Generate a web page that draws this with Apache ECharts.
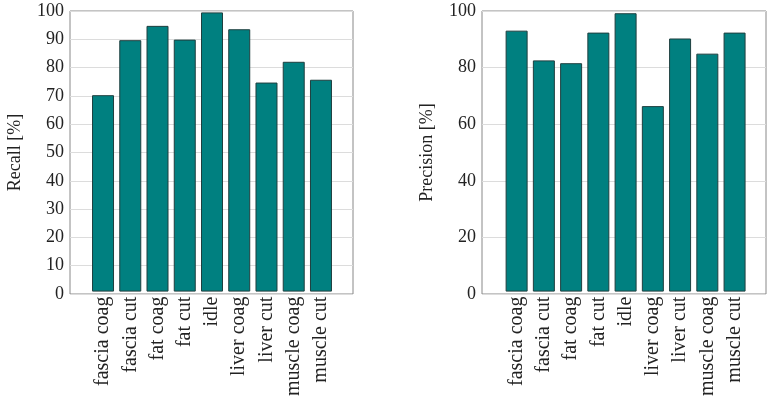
<!DOCTYPE html>
<html>
<head>
<meta charset="utf-8">
<script src="https://cdn.jsdelivr.net/npm/echarts@6/dist/echarts.min.js"></script>
<style>
html, body { margin: 0; padding: 0; background: #fff; }
#chart { width: 768px; height: 399px; }
</style>
</head>
<body>
<div id="chart"></div>
<script>
var chart = echarts.init(document.getElementById('chart'));

var classes = ['fascia coag', 'fascia cut', 'fat coag', 'fat cut', 'idle',
  'liver coag', 'liver cut', 'muscle coag', 'muscle cut'];
var recall = [70.0, 89.6, 94.7, 89.8, 99.5, 93.5, 74.5, 81.9, 75.5];
var precision = [93.0, 82.4, 81.4, 92.3, 99.2, 66.1, 90.2, 84.8, 92.3];

var font = 'Liberation Serif';
var txt = '#222';

// frame grid + bar grid for each panel
function frameAxes(idx, name, interval) {
  return {
    x: { gridIndex: idx, type: 'value', min: 0, max: 1, show: false },
    y: {
      gridIndex: idx, type: 'value', min: 0, max: 100, interval: interval,
      name: name, nameLocation: 'middle', nameGap: 46,
      nameTextStyle: { fontFamily: font, fontSize: 18, color: txt },
      axisLine: { show: false }, axisTick: { show: false },
      axisLabel: { fontFamily: font, fontSize: 18, color: txt, margin: 6 },
      splitLine: { lineStyle: { color: '#dcdcdc', width: 1 } }
    }
  };
}

var fL = frameAxes(0, 'Recall [%]', 10);
var fR = frameAxes(2, 'Precision [%]', 20);

function barX(idx) {
  return {
    gridIndex: idx, type: 'category', data: classes,
    axisLine: { show: false },
    axisTick: { show: false },
    axisLabel: { rotate: 90, interval: 0, fontFamily: font, fontSize: 20, color: txt, margin: 5 }
  };
}
function barY(idx) {
  return { gridIndex: idx, type: 'value', min: 0, max: 100, show: false };
}

var barStyle = { color: '#008080', borderColor: '#1f3f3f', borderWidth: 1 };

option = {
  animation: false,
  grid: [
    { left: 70, top: 11, width: 283, height: 283, show: true, borderColor: '#888', borderWidth: 1, backgroundColor: 'transparent' },
    { left: 89.4, top: 11, width: 245.2, height: 283 },
    { left: 482, top: 11, width: 284, height: 283, show: true, borderColor: '#888', borderWidth: 1, backgroundColor: 'transparent' },
    { left: 503, top: 11, width: 245.2, height: 283 }
  ],
  xAxis: [fL.x, barX(1), fR.x, barX(3)],
  yAxis: [fL.y, barY(1), fR.y, barY(3)],
  series: [
    { type: 'bar', xAxisIndex: 1, yAxisIndex: 1, data: recall, barWidth: 22, itemStyle: barStyle },
    { type: 'bar', xAxisIndex: 3, yAxisIndex: 3, data: precision, barWidth: 22, itemStyle: barStyle }
  ]
};

chart.setOption(option);
</script>
</body>
</html>
